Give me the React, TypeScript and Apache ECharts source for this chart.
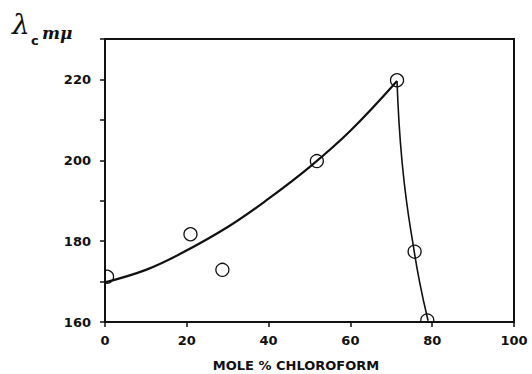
import React, { useEffect, useRef } from "react";
import * as echarts from "echarts";

// Measured points (mole % chloroform, lambda_c in mμ)
const pointX = [0.5, 20.9, 28.7, 51.8, 71.4, 75.7, 78.8];
const pointY = [171.2, 181.7, 172.9, 199.8, 219.8, 177.4, 160.4];

// Hand-drawn fitted curves
const riseX = [0, 10, 18.3, 30, 40, 50, 60, 71.4];
const riseY = [169.8, 172.9, 176.8, 183.5, 190.5, 198.3, 207.3, 219.6];
const fallX = [71.4, 71.85, 72.6, 73.7, 75.2, 76.9, 79];
const fallY = [219.6, 210, 200, 190, 180, 170, 160.3];

const xTicks = [0, 20, 40, 60, 80, 100];
const yLabels = [160, 180, 200, 220];

const INK = "#111";
const FONT = "DejaVu Sans";

export default function App() {
  const ref = useRef<HTMLDivElement>(null);
  useEffect(() => {
    if (!ref.current) return;
    const chart = echarts.init(ref.current, undefined, { renderer: "svg" });
    const pts = pointX.map((x, i) => [x, pointY[i]]);
    chart.setOption({
      animation: false,
      backgroundColor: "#fff",
      grid: {
        left: 105,
        right: 18,
        top: 39,
        bottom: 52,
        show: true,
        borderColor: INK,
        borderWidth: 2,
        backgroundColor: "transparent",
      },
      xAxis: {
        type: "value",
        min: xTicks[0],
        max: xTicks[xTicks.length - 1],
        interval: 20,
        axisLine: { show: true, lineStyle: { color: INK, width: 2 } },
        axisTick: { show: true, inside: false, length: 5, lineStyle: { color: INK, width: 1.5 } },
        splitLine: { show: false },
        axisLabel: {
          color: INK,
          fontFamily: FONT,
          fontWeight: "bold",
          fontSize: 13,
          margin: 12,
          formatter: (v: number) => (xTicks.includes(v) ? String(v) : ""),
        },
      },
      yAxis: {
        type: "value",
        min: 160,
        max: 230,
        interval: 10,
        axisLine: { show: true, lineStyle: { color: INK, width: 2 } },
        axisTick: { show: true, inside: false, length: 5, lineStyle: { color: INK, width: 1.5 } },
        splitLine: { show: false },
        axisLabel: {
          color: INK,
          fontFamily: FONT,
          fontWeight: "bold",
          fontSize: 13,
          margin: 14,
          formatter: (v: number) => (yLabels.includes(v) ? String(v) : ""),
        },
      },
      graphic: [
        {
          type: "text",
          left: 12,
          top: 10,
          style: { text: "λ", fontSize: 28, fontFamily: "DejaVu Serif", fontStyle: "italic", fill: INK },
        },
        {
          type: "text",
          left: 31,
          top: 34,
          style: { text: "c", fontSize: 13, fontFamily: FONT, fontWeight: "bold", fill: INK },
        },
        {
          type: "text",
          left: 42,
          top: 24,
          style: { text: "mμ", fontSize: 17, fontFamily: "DejaVu Serif", fontStyle: "italic", fontWeight: "bold", fill: INK },
        },
        {
          type: "text",
          x: 296,
          y: 365,
          style: {
            text: "MOLE % CHLOROFORM",
            fontSize: 13,
            fontFamily: FONT,
            fontWeight: "bold",
            fill: INK,
            align: "center",
            verticalAlign: "middle",
          },
        },
      ],
      series: [
        {
          type: "line",
          data: riseX.map((x, i) => [x, riseY[i]]),
          smooth: 0.4,
          showSymbol: false,
          lineStyle: { color: INK, width: 2.2 },
          z: 3,
        },
        {
          type: "line",
          data: fallX.map((x, i) => [x, fallY[i]]),
          smooth: 0.5,
          showSymbol: false,
          lineStyle: { color: INK, width: 1.6 },
          z: 3,
        },
        {
          type: "custom",
          clip: true,
          data: pts,
          z: 4,
          renderItem: (params: any, api: any) => {
            const p = api.coord([api.value(0), api.value(1)]);
            return {
              type: "circle",
              shape: { cx: p[0], cy: p[1], r: 6.5 },
              style: { fill: "none", stroke: INK, lineWidth: 1.3 },
            };
          },
        },
      ],
    });
    return () => chart.dispose();
  }, []);
  return <div ref={ref} style={{ width: 532, height: 374, position: "absolute", left: 0, top: 0 }} />;
}
